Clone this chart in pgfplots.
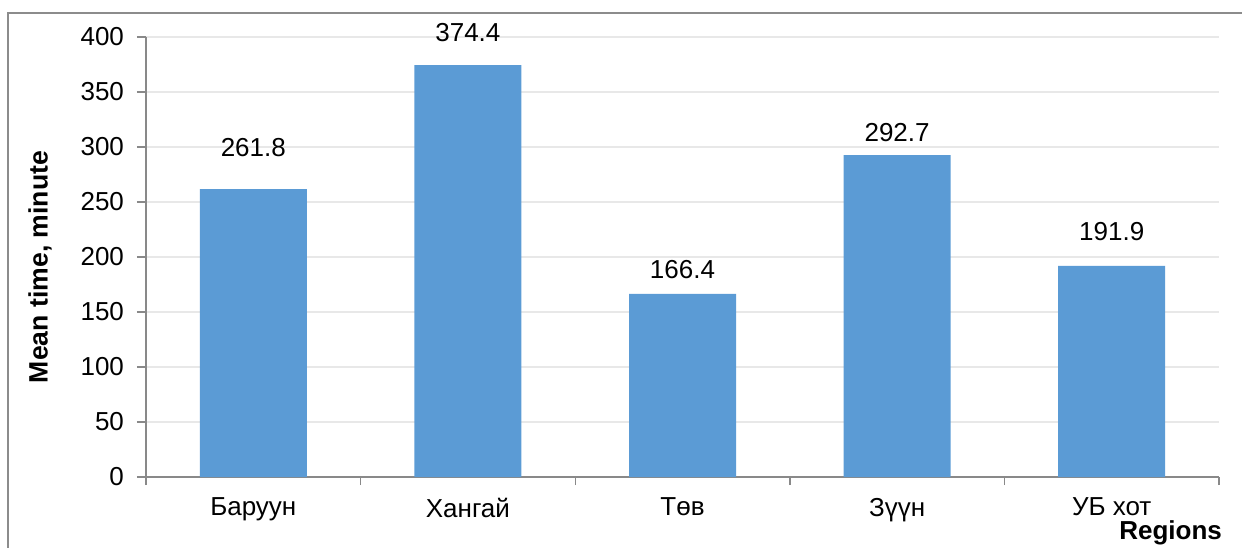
\documentclass[border=0pt]{standalone}
\usepackage{fontspec}
\setmainfont{Liberation Sans}
\usepackage{pgfplots}
\pgfplotsset{compat=1.18}
\definecolor{barblue}{HTML}{5B9BD5}
\definecolor{axisgray}{HTML}{898989}
\definecolor{gridgray}{HTML}{E8E8E8}
\definecolor{framegray}{HTML}{8C8C8C}

\begin{document}
\begin{tikzpicture}[font=\fontsize{13}{15}\selectfont]
\useasboundingbox (0,0) rectangle (621pt,273.5pt);
\draw[framegray,line width=0.8pt] (4pt,-2pt)--(4pt,267pt)--(625pt,267pt);
\begin{axis}[
  scale only axis,at={(73pt,35pt)},anchor=south west,
  width=536.5pt,height=220pt,
  xmin=-0.5,xmax=4.5,ymin=0,ymax=400,clip=false,
  axis x line*=bottom,axis y line*=left,
  axis line style={axisgray,line width=0.7pt},
  xtick={0,...,4},
  xticklabels={Баруун,Хангай,Төв,Зүүн,УБ хот},
  minor xtick={-0.5,0.5,...,4.5},
  major x tick style={draw=none},
  minor x tick style={axisgray,line width=0.7pt},
  ytick distance=50,
  y tick style={axisgray,line width=0.7pt},
  tick align=outside,
  major tick length=4.5pt,minor tick length=4pt,
  ymajorgrids,grid style={gridgray,line width=0.7pt},
  xticklabel style={yshift=-2.5pt},
  yticklabel style={xshift=-3pt},
  /pgf/number format/assume math mode=true,
]
\addplot[ybar,bar width=53.5pt,fill=barblue,draw=none] coordinates {
  (0,261.8) (1,374.4) (2,166.4) (3,292.7) (4,191.9)};
\addplot[draw=none,mark=none,nodes near coords,point meta=explicit symbolic,
  every node near coord/.style={anchor=center,inner sep=0pt,text=black}] coordinates {
  (0,299.1)[261.8] (1,403.6)[374.4] (2,188.2)[166.4] (3,312.7)[292.7] (4,222.7)[191.9]};
\end{axis}
\node[rotate=90,font=\fontsize{13.3}{15}\selectfont\bfseries] at (20pt,140pt) {Mean time, minute};
\node[anchor=east,font=\fontsize{13}{15}\selectfont\bfseries] at (614.5pt,7pt) {Regions};
\end{tikzpicture}
\end{document}
